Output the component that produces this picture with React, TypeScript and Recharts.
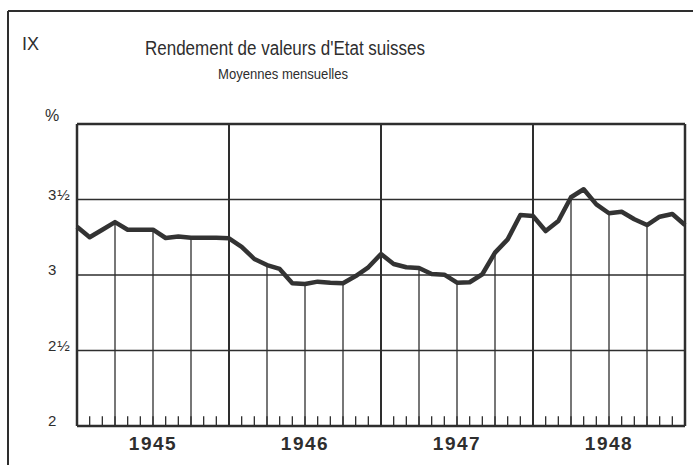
import React from "react";
import { LineChart, Line, XAxis, YAxis, ReferenceLine } from "recharts";

// Monthly average yield (%), points at month boundaries Jan 1945 .. Jan 1949
const monthIndex = [
  0, 1, 2, 3, 4, 5, 6, 7, 8, 9, 10, 11, 12, 13, 14, 15, 16, 17, 18, 19, 20, 21, 22, 23, 24,
  25, 26, 27, 28, 29, 30, 31, 32, 33, 34, 35, 36, 37, 38, 39, 40, 41, 42, 43, 44, 45, 46, 47, 48,
];
const yields = [
  3.32, 3.25, 3.3, 3.35, 3.3, 3.3, 3.3, 3.245, 3.255, 3.247, 3.247, 3.247, 3.243, 3.187, 3.106,
  3.066, 3.04, 2.945, 2.94, 2.956, 2.949, 2.945, 2.993, 3.051, 3.139, 3.073, 3.051, 3.046, 3.007,
  3.002, 2.949, 2.952, 3.005, 3.148, 3.236, 3.397, 3.391, 3.291, 3.358, 3.515, 3.568, 3.468,
  3.409, 3.419, 3.369, 3.331, 3.386, 3.404, 3.331,
];
const yearLabels = ["1945", "1946", "1947", "1948"];
const yearTickPos = [6, 18, 30, 42];
const yearBoundaries = [12, 24, 36];
const quarterMarks = [3, 6, 9, 15, 18, 21, 27, 30, 33, 39, 42, 45];
const yTicks = [2, 2.5, 3, 3.5];
const yTickLabels = ["2", "2\u00BD", "3", "3\u00BD"];

const data = monthIndex.map((m, i) => ({ m, v: yields[i] }));

const INK = "#2e2e2e";
const FONT = "'Liberation Sans', Arial, sans-serif";

const YTick = (props: any) => {
  const idx = yTicks.indexOf(props.payload.value);
  return (
    <text x={48} y={props.y} dy={0} fontSize={15} fill={INK} fontFamily={FONT} textAnchor="start" letterSpacing={1}>
      {yTickLabels[idx]}
    </text>
  );
};

const XTick = (props: any) => {
  const idx = yearTickPos.indexOf(props.payload.value);
  return (
    <text x={props.x} y={props.y} dy={22} fontSize={19} fontWeight="bold" fill={INK} fontFamily={FONT} textAnchor="middle" letterSpacing={1.5}>
      {yearLabels[idx]}
    </text>
  );
};

export default function App() {
  return (
    <div style={{ position: "absolute", left: 0, top: 0, width: 693, height: 465, background: "#fff" }}>
      <LineChart
        width={693}
        height={465}
        data={data}
        margin={{ top: 124, right: 8, bottom: 0, left: 0 }}
      >
        <XAxis
          dataKey="m"
          type="number"
          domain={[0, 48]}
          ticks={yearTickPos}
          tick={<XTick />}
          axisLine={false}
          tickLine={false}
          tickSize={0}
          height={39}
          interval={0}
        />
        <YAxis
          type="number"
          domain={[2, 4]}
          ticks={yTicks}
          tick={<YTick />}
          axisLine={false}
          tickLine={false}
          width={77}
          interval={0}
        />
        {yTicks.slice(1).map((t) => (
          <ReferenceLine key={"h" + t} y={t} stroke={INK} strokeWidth={1.5} />
        ))}
        {yearBoundaries.map((x) => (
          <ReferenceLine key={"yb" + x} x={x} stroke={INK} strokeWidth={2} />
        ))}
        {quarterMarks.map((q) => (
          <ReferenceLine
            key={"q" + q}
            segment={[
              { x: q, y: 2 },
              { x: q, y: yields[q] },
            ]}
            stroke={INK}
            strokeWidth={1.3}
          />
        ))}
        {monthIndex.slice(1, 48).map((m) => (
          <ReferenceLine
            key={"t" + m}
            segment={[
              { x: m, y: 2 },
              { x: m, y: 2.065 },
            ]}
            stroke={INK}
            strokeWidth={1.3}
          />
        ))}
        <ReferenceLine x={0} stroke={INK} strokeWidth={2.5} />
        <ReferenceLine x={48} stroke={INK} strokeWidth={2.5} />
        <ReferenceLine y={2} stroke={INK} strokeWidth={2.5} />
        <ReferenceLine y={4} stroke={INK} strokeWidth={2.5} />
        <Line
          type="linear"
          dataKey="v"
          stroke="#333"
          strokeWidth={4.5}
          dot={false}
          isAnimationActive={false}
          strokeLinejoin="round"
        />
      </LineChart>
      <svg
        width={693}
        height={465}
        style={{ position: "absolute", left: 0, top: 0, pointerEvents: "none" }}
      >
        <line x1={8} y1={11} x2={693} y2={11} stroke={INK} strokeWidth={2} />
        <line x1={8} y1={11} x2={8} y2={465} stroke={INK} strokeWidth={2} />
        <text x={22} y={50} fontSize={18} fill={INK} fontFamily={FONT}>
          IX
        </text>
        <text
          x={145}
          y={55}
          fontSize={20}
          fill={INK}
          fontFamily={FONT}
          textLength={280}
          lengthAdjust="spacingAndGlyphs"
        >
          Rendement de valeurs d'Etat suisses
        </text>
        <text
          x={218}
          y={79}
          fontSize={14.5}
          fill={INK}
          fontFamily={FONT}
          textLength={130}
          lengthAdjust="spacingAndGlyphs"
        >
          Moyennes mensuelles
        </text>
        <text x={45} y={121} fontSize={16} fill={INK} fontFamily={FONT}>
          %
        </text>
      </svg>
    </div>
  );
}
